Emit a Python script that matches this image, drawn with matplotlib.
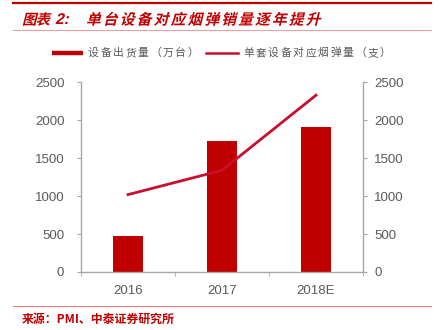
import matplotlib
matplotlib.use('Agg')
import matplotlib.pyplot as plt
from matplotlib.textpath import TextPath
from matplotlib.font_manager import FontProperties
from matplotlib.patches import PathPatch
from matplotlib.lines import Line2D
from matplotlib.transforms import Affine2D

plt.rcParams['font.family'] = ['Liberation Sans', 'Noto Sans CJK SC', 'DejaVu Sans']

years = ['2016', '2017', '2018E']
shipments = [480, 1730, 1910]          # 设备出货量（万台）
pods_per_device = [1020, 1340, 2330]   # 单套设备对应烟弹量（支）

BAR_RED = '#c00000'
LINE_RED = '#c8102e'
AXIS_GRAY = '#a6a6a6'
TEXT_GRAY = '#595959'
W, H = 446, 330

fig = plt.figure(figsize=(W / 100, H / 100), dpi=100)
px = Affine2D().scale(1 / W, 1 / H) + fig.transFigure


def slanted(x0, y0, s, size, advance, fp):
    # one glyph at a time so the spacing can be set, sheared to look italic
    for i, ch in enumerate(s):
        path = TextPath((0, 0), ch, size=size, prop=fp)
        tr = Affine2D().skew_deg(14, 0).translate(x0 + i * advance, y0) + px
        fig.add_artist(PathPatch(path, transform=tr, facecolor=BAR_RED, edgecolor='none'))


def spaced(x0, y0, s, advance, **kw):
    for i, ch in enumerate(s):
        fig.text((x0 + i * advance) / W, y0 / H, ch, ha='left', va='center', **kw)


# header: thick red rule, slanted title, thin pink rule
fig.add_artist(Line2D([13, 431], [H - 2.5, H - 2.5], transform=px, color=BAR_RED, lw=1.6))
fig.add_artist(Line2D([13, 431], [H - 29.5, H - 29.5], transform=px, color='#e8a0a0', lw=0.8))

title_fp = FontProperties(family='Noto Sans CJK SC', weight='bold')
num_fp = FontProperties(family='Liberation Sans', weight='bold')
slanted(22, H - 24.5, '图表', 14.5, 13.5, title_fp)
slanted(55, H - 24, '2:', 15.5, 8.5, num_fp)
slanted(86, H - 24.5, '单台设备对应烟弹销量逐年提升', 14.8, 16.9, title_fp)

ax = fig.add_axes([81 / W, (H - 272) / H, 282 / W, 189.7 / H])
x = range(len(years))
ax.bar(x, shipments, width=0.31, color=BAR_RED, zorder=2)
ax.set_xlim(-0.5, 2.5)
ax.set_ylim(0, 2500)
ax.set_yticks(range(0, 2501, 500))

ax2 = ax.twinx()
ax2.plot(x, pods_per_device, color=LINE_RED, lw=2, zorder=3)
ax2.set_ylim(0, 2500)
ax2.set_yticks(range(0, 2501, 500))

for a in (ax, ax2):
    a.spines['top'].set_visible(False)
    for s in ('left', 'right', 'bottom'):
        a.spines[s].set_color(AXIS_GRAY)
        a.spines[s].set_linewidth(1.0)

ax.spines['right'].set_visible(False)
ax2.spines['left'].set_visible(False)
ax2.spines['bottom'].set_visible(False)

ax.set_xticks(list(x))
ax.set_xticklabels(years)
ax.set_xticks([-0.5, 0.5, 1.5, 2.5], minor=True)
ax.tick_params(axis='x', which='major', length=0, pad=9, labelsize=9.5, labelcolor=TEXT_GRAY)
ax.tick_params(axis='x', which='minor', length=3, color=AXIS_GRAY, direction='out')
ax.tick_params(axis='y', length=3, color=AXIS_GRAY, pad=9, labelsize=9.5, labelcolor=TEXT_GRAY)
ax2.tick_params(axis='y', length=3, color=AXIS_GRAY, pad=5, labelsize=9.5, labelcolor=TEXT_GRAY)

# legend
fig.add_artist(Line2D([52, 83], [H - 53.2, H - 53.2], transform=px, color=BAR_RED, lw=3.2,
                      solid_capstyle='butt'))
spaced(88, H - 53, '设备出货量（万台）', 12.4, fontsize=7.8, color=TEXT_GRAY,
       family='Noto Sans CJK SC')
fig.add_artist(Line2D([206, 238], [H - 53.2, H - 53.2], transform=px, color=LINE_RED, lw=1.8))
spaced(243, H - 53, '单套设备对应烟弹量（支）', 12.45, fontsize=7.8, color=TEXT_GRAY,
       family='Noto Sans CJK SC')

# footer
fig.add_artist(Line2D([13, 431], [H - 306, H - 306], transform=px, color='#e88080', lw=0.8))
fig.text(22 / W, (H - 319) / H, '来源：PMI、中泰证券研究所', fontsize=8.6, color=BAR_RED,
         family='Noto Sans CJK SC', weight='bold', va='center', ha='left')

fig.savefig('out.png', dpi=100)
